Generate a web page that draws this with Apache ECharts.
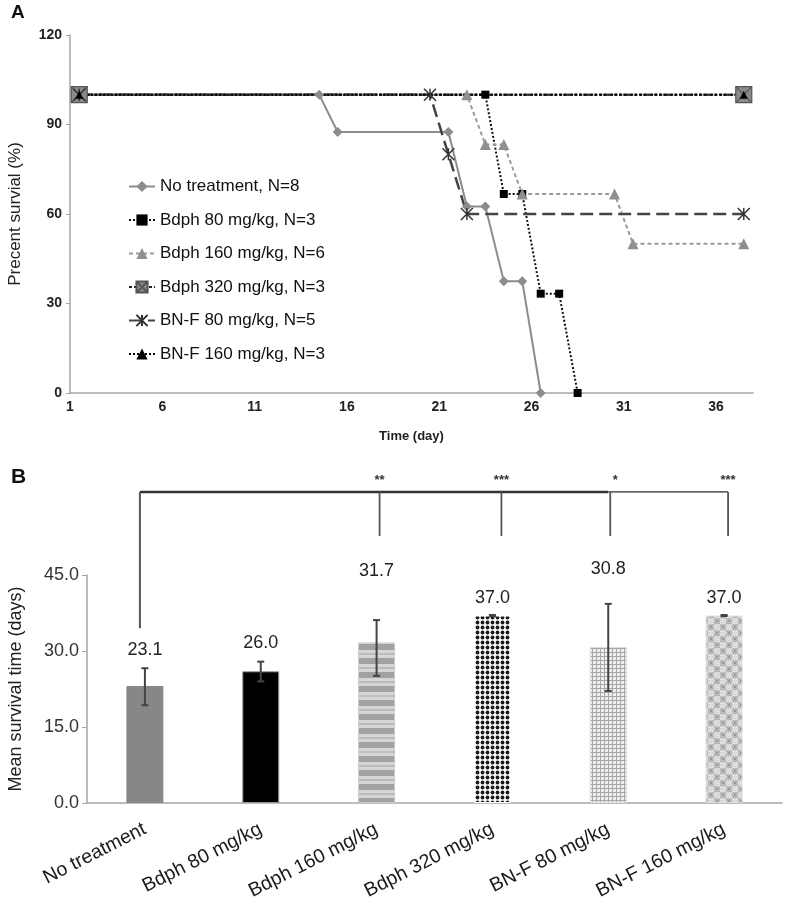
<!DOCTYPE html>
<html><head><meta charset="utf-8">
<script src="https://cdn.jsdelivr.net/npm/echarts@6/dist/echarts.min.js"></script>
<style>html,body{margin:0;padding:0;background:#fff}#c{width:787px;height:899px}</style>
</head><body><div id="c"></div>
<script>
// ---------- Panel A data (Kaplan-Meier style survival) ----------
const legendNames = ['No treatment, N=8','Bdph 80 mg/kg, N=3','Bdph 160 mg/kg, N=6','Bdph 320 mg/kg, N=3','BN-F 80 mg/kg, N=5','BN-F 160 mg/kg, N=3'];
const noTreatDays = [1.5, 14.5, 15.5, 21.5, 22.5, 23.5, 24.5, 25.5, 26.5];
const noTreatSurv = [100, 100, 87.5, 87.5, 62.5, 62.5, 37.5, 37.5, 0];
const bdph80Days = [1.5, 23.5, 24.5, 25.5, 26.5, 27.5, 28.5];
const bdph80Surv = [100, 100, 66.7, 66.7, 33.3, 33.3, 0];
const bdph160Days = [1.5, 22.5, 23.5, 24.5, 25.5, 30.5, 31.5, 37.5];
const bdph160Surv = [100, 100, 83.3, 83.3, 66.7, 66.7, 50, 50];
const bdph320Days = [1.5, 37.5];
const bdph320Surv = [100, 100];
const bnf80Days = [1.5, 20.5, 21.5, 22.5, 37.5];
const bnf80Surv = [100, 100, 80, 60, 60];
const bnf160Days = [1.5, 37.5];
const bnf160Surv = [100, 100];
const timeTicks = [1, 6, 11, 16, 21, 26, 31, 36];
const survTicks = [0, 30, 60, 90, 120];

// ---------- Panel B data ----------
const barGroups = ['No treatment','Bdph 80 mg/kg','Bdph 160 mg/kg','Bdph 320 mg/kg','BN-F 80 mg/kg','BN-F 160 mg/kg'];
const meanSurvival = [23.1, 26.0, 31.7, 37.0, 30.8, 37.0];
const errLow  = [19.3, 24.0, 25.1, 36.9, 22.1, 36.9];
const errHigh = [26.6, 27.9, 36.1, 37.1, 39.3, 37.1];
const sigTargets = [2, 3, 4, 5];
const sigMarks = ['**', '***', '*', '***'];
const meanTicks = [0, 15, 30, 45];

const FONT = '"Liberation Sans", Arial, sans-serif';

function pts(d, s) { return d.map((x, i) => [x, s[i]]); }
function tile(w, h, draw) {
  const c = document.createElement('canvas'); c.width = w; c.height = h;
  const g = c.getContext('2d'); draw(g, w, h); return c;
}
const patStripes = tile(1, 14, (g) => {
  g.fillStyle = '#d6d6d6'; g.fillRect(0, 0, 1, 14);
  g.fillStyle = '#a2a2a2'; g.fillRect(0, 0, 1, 6);
  g.fillStyle = '#bcbcbc'; g.fillRect(0, 9, 1, 2);
});
const patDots = tile(5, 5, (g) => {
  g.fillStyle = '#fff'; g.fillRect(0, 0, 5, 5);
  g.fillStyle = '#1a1a1a'; g.beginPath(); g.arc(2.5, 2.5, 1.9, 0, Math.PI * 2); g.fill();
});
const patGrid = tile(4, 4, (g) => {
  g.fillStyle = '#eeeeee'; g.fillRect(0, 0, 4, 4);
  g.fillStyle = '#a8a8a8'; g.fillRect(0, 0, 4, 1); g.fillRect(0, 0, 1, 4);
});
const patCheck = tile(12, 12, (g) => {
  g.fillStyle = '#e2e2e2'; g.fillRect(0, 0, 12, 12);
  g.fillStyle = '#b4b4b4'; g.fillRect(0, 0, 6, 6); g.fillRect(6, 6, 6, 6);
  g.fillStyle = '#c8c8c8';
  for (let y = 0; y < 12; y += 2) for (let x = (y % 4) / 2; x < 12; x += 2) g.fillRect(x, y, 1, 1);
  g.fillStyle = '#9a9a9a'; g.fillRect(2, 2, 2, 2); g.fillRect(8, 8, 2, 2);
});
const barFills = ['#878787', '#000000', { image: patStripes, repeat: 'repeat' }, { image: patDots, repeat: 'repeat' }, { image: patGrid, repeat: 'repeat' }, { image: patCheck, repeat: 'repeat' }];
const barBorders = ['#878787', '#9a9a9a', '#cccccc', '#ffffff', '#dddddd', '#dddddd'];
const labelGap = [18, 19, 49, 17, 35, 17];

const chart = echarts.init(document.getElementById('c'));
const axisGray = '#a6a6a6';
chart.setOption({
  animation: false,
  backgroundColor: '#fff',
  textStyle: { fontFamily: FONT },
  grid: [
    { left: 70, right: 34, top: 35, height: 358, outerBoundsMode: 'none', containLabel: false },
    { left: 87, right: 5, top: 575, height: 228, outerBoundsMode: 'none', containLabel: false }
  ],
  legend: {
    orient: 'vertical', left: 123, top: 173, itemGap: 16.5, itemWidth: 26, itemHeight: 14,
    textStyle: { fontSize: 17, color: '#111', fontFamily: FONT },
    data: legendNames
  },
  xAxis: [
    {
      gridIndex: 0, type: 'value', min: timeTicks[0], max: 38, interval: timeTicks[1] - timeTicks[0],
      axisLine: { lineStyle: { color: axisGray, width: 1.5 } }, axisTick: { show: false }, splitLine: { show: false },
      axisLabel: { fontSize: 14, fontWeight: 'bold', color: '#222', margin: 7, showMaxLabel: false,
        formatter: v => timeTicks.includes(v) ? String(v) : '' },
      name: 'Time (day)', nameLocation: 'middle', nameGap: 37,
      nameTextStyle: { fontSize: 13, fontWeight: 'bold', color: '#222' }
    },
    {
      gridIndex: 1, type: 'category', data: barGroups,
      axisLine: { lineStyle: { color: axisGray, width: 1.5 } }, axisTick: { show: false },
      axisLabel: { rotate: 27, fontSize: 19.5, color: '#1a1a1a', margin: 25, interval: 0 }
    }
  ],
  yAxis: [
    {
      gridIndex: 0, type: 'value', min: survTicks[0], max: survTicks[survTicks.length - 1], interval: survTicks[1] - survTicks[0],
      axisLine: { show: true, lineStyle: { color: axisGray, width: 1.5 } },
      axisTick: { show: true, length: 4, lineStyle: { color: axisGray } }, splitLine: { show: false },
      axisLabel: { fontSize: 14, fontWeight: 'bold', color: '#222', margin: 8 },
      name: 'Precent survial (%)', nameLocation: 'middle', nameGap: 46,
      nameTextStyle: { fontSize: 17, color: '#222' }
    },
    {
      gridIndex: 1, type: 'value', min: meanTicks[0], max: meanTicks[meanTicks.length - 1], interval: meanTicks[1] - meanTicks[0],
      axisLine: { show: true, lineStyle: { color: axisGray, width: 1.5 } },
      axisTick: { show: true, length: 5, lineStyle: { color: axisGray } }, splitLine: { show: false },
      axisLabel: { fontSize: 18, color: '#333', margin: 8, formatter: v => v.toFixed(1) },
      name: 'Mean survival time (days)', nameLocation: 'middle', nameGap: 62,
      nameTextStyle: { fontSize: 18, color: '#222' }
    }
  ],
  series: [
    { name: legendNames[0], type: 'line', xAxisIndex: 0, yAxisIndex: 0, data: pts(noTreatDays, noTreatSurv),
      symbol: 'diamond', symbolSize: 10, lineStyle: { color: '#8c8c8c', width: 2 }, itemStyle: { color: '#8c8c8c' } },
    { name: legendNames[1], type: 'line', xAxisIndex: 0, yAxisIndex: 0, data: pts(bdph80Days, bdph80Surv),
      symbol: 'rect', symbolSize: 8, lineStyle: { color: '#111', width: 2, type: [2, 2] }, itemStyle: { color: '#000' } },
    { name: legendNames[2], type: 'line', xAxisIndex: 0, yAxisIndex: 0, data: pts(bdph160Days, bdph160Surv),
      symbol: 'triangle', symbolSize: 11, lineStyle: { color: '#9a9a9a', width: 2, type: [4, 3] }, itemStyle: { color: '#8f8f8f' } },
    { name: legendNames[3], type: 'line', xAxisIndex: 0, yAxisIndex: 0, data: pts(bdph320Days, bdph320Surv),
      symbol: 'path://M0,0L10,0L10,10L0,10Z M0,0L10,10 M10,0L0,10', symbolSize: 16,
      lineStyle: { color: '#222', width: 2.5, type: [3, 2] }, itemStyle: { color: '#8a8a8a', borderColor: '#555', borderWidth: 1.2 } },
    { name: legendNames[4], type: 'line', xAxisIndex: 0, yAxisIndex: 0, data: pts(bnf80Days, bnf80Surv),
      symbol: 'path://M0,0L10,10M10,0L0,10M5,0L5,10', symbolSize: 12,
      lineStyle: { color: '#444', width: 2.5, type: [13, 6] }, itemStyle: { color: '#fff', borderColor: '#333', borderWidth: 1.5 } },
    { name: legendNames[5], type: 'line', xAxisIndex: 0, yAxisIndex: 0, data: pts(bnf160Days, bnf160Surv),
      symbol: 'triangle', symbolSize: 8, lineStyle: { color: '#000', width: 2, type: [2, 2] }, itemStyle: { color: '#000' } },
    { type: 'bar', xAxisIndex: 1, yAxisIndex: 1, barWidth: 37,
      data: meanSurvival.map((v, i) => ({ value: v, itemStyle: { color: barFills[i], borderColor: barBorders[i], borderWidth: 1 } })) },
    { type: 'custom', xAxisIndex: 1, yAxisIndex: 1, z: 10, clip: false,
      data: barGroups.map((g, i) => [i, errLow[i], errHigh[i], meanSurvival[i]]),
      renderItem: function (params, api) {
        const i = api.value(0);
        const lo = api.coord([i, api.value(1)]);
        const hi = api.coord([i, api.value(2)]);
        const st = { stroke: '#444', lineWidth: 2 };
        return { type: 'group', children: [
          { type: 'line', shape: { x1: lo[0], y1: lo[1], x2: hi[0], y2: hi[1] }, style: st },
          { type: 'line', shape: { x1: hi[0] - 3.5, y1: hi[1], x2: hi[0] + 3.5, y2: hi[1] }, style: st },
          { type: 'line', shape: { x1: lo[0] - 3.5, y1: lo[1], x2: lo[0] + 3.5, y2: lo[1] }, style: st },
          { type: 'text', style: { text: api.value(3).toFixed(1), x: hi[0], y: hi[1] - labelGap[i], align: 'center', verticalAlign: 'middle',
            font: '18px ' + FONT, fill: '#222' } }
        ] };
      } }
  ]
});

// significance bracket (pixel positions derived from the bar chart scales)
function px(cat, val) { return chart.convertToPixel({ xAxisIndex: 1, yAxisIndex: 1 }, [cat, val]); }
const topV = 61.4, dropV = 52.7, firstDropV = 34.5, starV = 63.6;
const els = [];
const p0 = px(0, topV), p4 = px(4, topV), p5 = px(5, topV);
els.push({ type: 'line', shape: { x1: p0[0] - 5, y1: p0[1], x2: p4[0], y2: p4[1] }, style: { stroke: '#333', lineWidth: 2.5 } });
els.push({ type: 'line', shape: { x1: p4[0], y1: p4[1], x2: p5[0] + 4, y2: p5[1] }, style: { stroke: '#666', lineWidth: 1.6 } });
const f0 = px(0, firstDropV);
els.push({ type: 'line', shape: { x1: p0[0] - 5, y1: p0[1], x2: f0[0] - 5, y2: f0[1] }, style: { stroke: '#555', lineWidth: 2 } });
sigTargets.forEach((c, k) => {
  const a = px(c, topV), b = px(c, dropV), s = px(c, starV);
  const dx = [3, 9, 2, 4][k];
  els.push({ type: 'line', shape: { x1: a[0] + dx, y1: a[1], x2: b[0] + dx, y2: b[1] }, style: { stroke: '#555', lineWidth: 1.8 } });
  els.push({ type: 'text', style: { text: sigMarks[k], x: s[0] + dx + (k === 2 ? 5 : 0), y: s[1], align: 'center', verticalAlign: 'middle', font: 'bold 13px ' + FONT, fill: '#333' } });
});
els.push({ type: 'text', left: 11, top: 3, style: { text: 'A', font: 'bold 19px ' + FONT, fill: '#111' } });
els.push({ type: 'text', left: 11, top: 467, style: { text: 'B', font: 'bold 21px ' + FONT, fill: '#111' } });
chart.setOption({ graphic: els });
</script>
</body></html>
